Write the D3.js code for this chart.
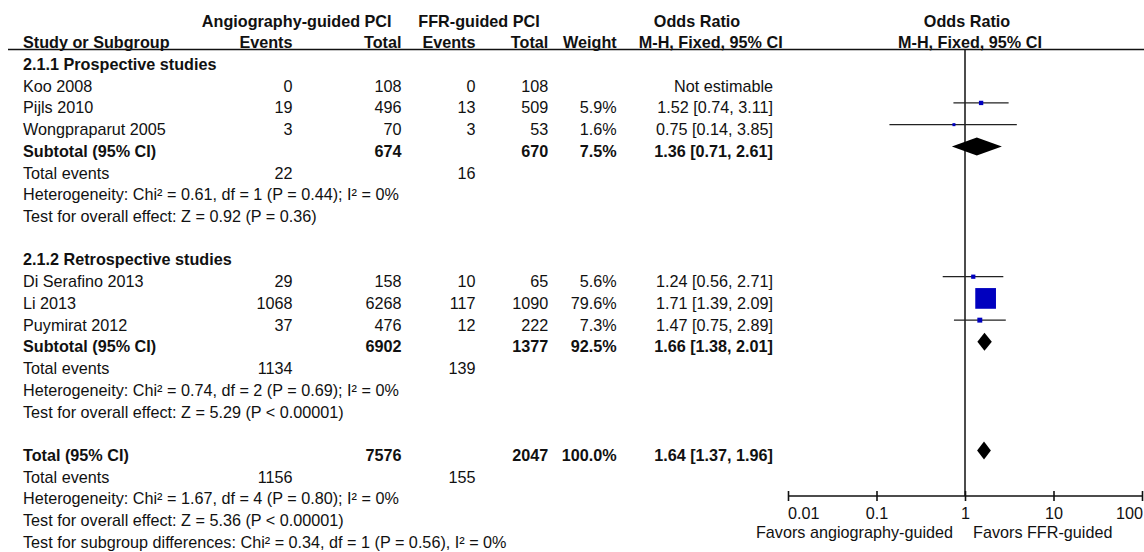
<!DOCTYPE html>
<html>
<head>
<meta charset="utf-8">
<script src="https://cdn.jsdelivr.net/npm/d3@7"></script>
<style>
  html, body { margin: 0; padding: 0; background: #fff; }
  svg text { font-family: "Liberation Sans", Arial, Helvetica, sans-serif; font-size: 16.2px; fill: #111; }
  .b { font-weight: bold; }
</style>
</head>
<body>
<svg id="chart" width="1144" height="552"></svg>
<script>
// ---------- data ----------
const groupNames = ["2.1.1 Prospective studies", "2.1.2 Retrospective studies"];
const studies = ["Koo 2008", "Pijls 2010", "Wongpraparut 2005", "Di Serafino 2013", "Li 2013", "Puymirat 2012"];
const studyGroup = [0, 0, 0, 1, 1, 1];
const angioEvents = [0, 19, 3, 29, 1068, 37];
const angioTotal = [108, 496, 70, 158, 6268, 476];
const ffrEvents = [0, 13, 3, 10, 117, 12];
const ffrTotal = [108, 509, 53, 65, 1090, 222];
const weights = [null, 5.9, 1.6, 5.6, 79.6, 7.3];
const oddsRatio = [null, 1.52, 0.75, 1.24, 1.71, 1.47];
const ciLow = [null, 0.74, 0.14, 0.56, 1.39, 0.75];
const ciHigh = [null, 3.11, 3.85, 2.71, 2.09, 2.89];

const subAngioEvents = [22, 1134];
const subFfrEvents = [16, 139];
const subAngioTotal = [674, 6902];
const subFfrTotal = [670, 1377];
const subWeight = [7.5, 92.5];
const subOR = [1.36, 1.66];
const subLow = [0.71, 1.38];
const subHigh = [2.61, 2.01];
const subHeterogeneity = ["Heterogeneity: Chi² = 0.61, df = 1 (P = 0.44); I² = 0%",
                          "Heterogeneity: Chi² = 0.74, df = 2 (P = 0.69); I² = 0%"];
const subOverall = ["Test for overall effect: Z = 0.92 (P = 0.36)",
                    "Test for overall effect: Z = 5.29 (P < 0.00001)"];

const totalAngioEvents = 1156, totalFfrEvents = 155;
const totalAngio = 7576, totalFfr = 2047, totalWeight = 100.0;
const totalOR = 1.64, totalLow = 1.37, totalHigh = 1.96;
const totalHeterogeneity = "Heterogeneity: Chi² = 1.67, df = 4 (P = 0.80); I² = 0%";
const totalOverall = "Test for overall effect: Z = 5.36 (P < 0.00001)";
const subgroupDiff = "Test for subgroup differences: Chi² = 0.34, df = 1 (P = 0.56), I² = 0%";

const tickValues = [0.01, 0.1, 1, 10, 100];
const tickLabels = ["0.01", "0.1", "1", "10", "100"];
const favorsLeft = "Favors angiography-guided";
const favorsRight = "Favors FFR-guided";

// ---------- layout ----------
const svg = d3.select("#chart");
const col = { study: 23, aEv: 292.5, aTot: 401.5, fEv: 475.5, fTot: 548.3, w: 616.7, or: 773 };
const row0 = 70, rowH = 21.72;
const rowY = i => row0 + i * rowH;
const markOff = -10.5;

const x = d3.scaleLog().domain([0.01, 100]).range([788, 1142]);
const sq = d3.scalePow().exponent(0.6).domain([0, 79.6]).range([0, 20.7]);
const f1 = d3.format(".1f"), f2 = d3.format(".2f");
const orText = (o, l, h) => `${f2(o)} [${f2(l)}, ${f2(h)}]`;

function txt(xp, yp, s, anchor, bold) {
  svg.append("text").attr("x", xp).attr("y", yp)
    .attr("text-anchor", anchor || "start")
    .attr("class", bold ? "b" : null).text(s);
}

// headers
txt(296.7, 26.7, "Angiography-guided PCI", "middle", true);
txt(479, 26.7, "FFR-guided PCI", "middle", true);
txt(697, 26.7, "Odds Ratio", "middle", true);
txt(967, 26.7, "Odds Ratio", "middle", true);
txt(col.study, 47.7, "Study or Subgroup", "start", true);
txt(col.aEv, 47.7, "Events", "end", true);
txt(col.aTot, 47.7, "Total", "end", true);
txt(col.fEv, 47.7, "Events", "end", true);
txt(col.fTot, 47.7, "Total", "end", true);
txt(col.w, 47.7, "Weight", "end", true);
txt(782.7, 47.7, "M-H, Fixed, 95% CI", "end", true);
txt(970, 47.7, "M-H, Fixed, 95% CI", "middle", true);

svg.append("line").attr("x1", 8).attr("x2", 1144).attr("y1", 49.5).attr("y2", 49.5)
  .attr("stroke", "#111").attr("stroke-width", 1.3);

// vertical line of no effect
svg.append("line").attr("x1", x(1)).attr("x2", x(1)).attr("y1", 49.5).attr("y2", 496)
  .attr("stroke", "#111").attr("stroke-width", 1.5);

const marks = svg.append("g");

function diamond(yc, o, l, h) {
  const hh = 9;
  marks.append("path")
    .attr("d", `M${x(l)},${yc} L${x(o)},${yc - hh} L${x(h)},${yc} L${x(o)},${yc + hh} Z`)
    .attr("fill", "#000");
}

// groups
let r = 0;
groupNames.forEach((g, gi) => {
  txt(col.study, rowY(r), g, "start", true); r++;
  studies.forEach((s, i) => {
    if (studyGroup[i] !== gi) return;
    const y = rowY(r);
    txt(col.study, y, s);
    txt(col.aEv, y, angioEvents[i], "end");
    txt(col.aTot, y, angioTotal[i], "end");
    txt(col.fEv, y, ffrEvents[i], "end");
    txt(col.fTot, y, ffrTotal[i], "end");
    if (weights[i] == null) {
      txt(col.or, y, "Not estimable", "end");
    } else {
      txt(col.w, y, f1(weights[i]) + "%", "end");
      txt(col.or, y, orText(oddsRatio[i], ciLow[i], ciHigh[i]), "end");
      const ym = y + markOff;
      marks.append("line").attr("x1", x(ciLow[i])).attr("x2", x(ciHigh[i]))
        .attr("y1", ym).attr("y2", ym).attr("stroke", "#222").attr("stroke-width", 1.3);
      const side = Math.max(3, sq(weights[i]));
      marks.append("rect").attr("x", x(oddsRatio[i]) - side / 2).attr("y", ym - side / 2)
        .attr("width", side).attr("height", side).attr("fill", "#0000bf");
    }
    r++;
  });
  const ys = rowY(r);
  txt(col.study, ys, "Subtotal (95% CI)", "start", true);
  txt(col.aTot, ys, subAngioTotal[gi], "end", true);
  txt(col.fTot, ys, subFfrTotal[gi], "end", true);
  txt(col.w, ys, f1(subWeight[gi]) + "%", "end", true);
  txt(col.or, ys, orText(subOR[gi], subLow[gi], subHigh[gi]), "end", true);
  diamond(ys + markOff, subOR[gi], subLow[gi], subHigh[gi]);
  r++;
  txt(col.study, rowY(r), "Total events");
  txt(col.aEv, rowY(r), subAngioEvents[gi], "end");
  txt(col.fEv, rowY(r), subFfrEvents[gi], "end");
  r++;
  txt(col.study, rowY(r), subHeterogeneity[gi]); r++;
  txt(col.study, rowY(r), subOverall[gi]); r++;
  r++; // blank
});

// overall total
const yt = rowY(r);
txt(col.study, yt, "Total (95% CI)", "start", true);
txt(col.aTot, yt, totalAngio, "end", true);
txt(col.fTot, yt, totalFfr, "end", true);
txt(col.w, yt, f1(totalWeight) + "%", "end", true);
txt(col.or, yt, orText(totalOR, totalLow, totalHigh), "end", true);
diamond(yt + markOff, totalOR, totalLow, totalHigh);
r++;
txt(col.study, rowY(r), "Total events");
txt(col.aEv, rowY(r), totalAngioEvents, "end");
txt(col.fEv, rowY(r), totalFfrEvents, "end");
r++;
txt(col.study, rowY(r), totalHeterogeneity); r++;
txt(col.study, rowY(r), totalOverall); r++;
txt(col.study, rowY(r), subgroupDiff); r++;

// axis
const axisY = 496;
svg.append("line").attr("x1", x.range()[0]).attr("x2", x.range()[1])
  .attr("y1", axisY).attr("y2", axisY).attr("stroke", "#111").attr("stroke-width", 1.6);
const axis = d3.axisBottom(x).tickValues(tickValues)
  .tickFormat((d, i) => tickLabels[i]).tickSize(10).tickPadding(6.5);
const ag = svg.append("g").attr("transform", `translate(0,${axisY - 5})`).call(axis);
ag.select(".domain").remove();
ag.selectAll(".tick line").attr("stroke", "#111").attr("stroke-width", 1.6);
ag.selectAll(".tick text").attr("font-size", null).attr("font-family", null)
  .attr("fill", "#111")
  .attr("text-anchor", (d, i) => i === 0 ? "start" : (i === tickValues.length - 1 ? "end" : "middle"))
  .attr("x", (d, i) => i === 0 ? -0.5 : (i === tickValues.length - 1 ? 0.5 : 0));
ag.attr("font-size", null).attr("font-family", null);

txt(x(1) - 12, 538.3, favorsLeft, "end");
txt(x(1) + 8, 538.3, favorsRight, "start");
</script>
</body>
</html>
